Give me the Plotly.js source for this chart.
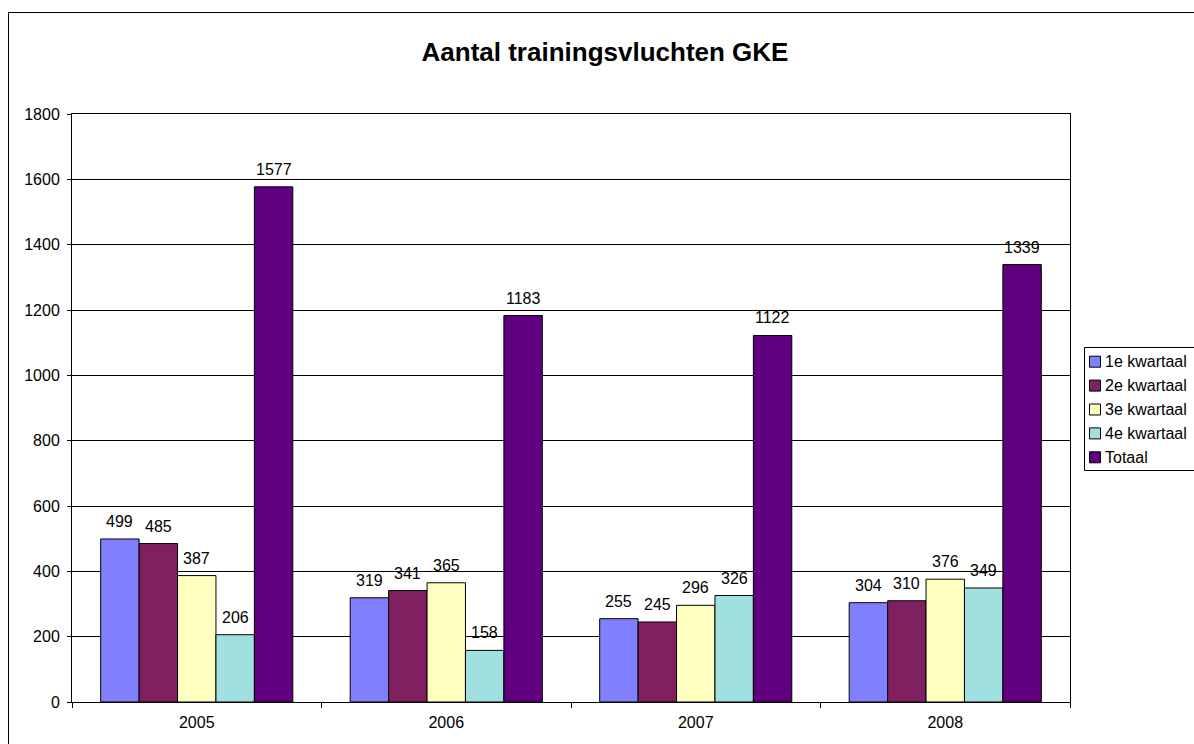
<!DOCTYPE html>
<html><head><meta charset="utf-8">
<script src="https://cdn.plot.ly/plotly-3.0.1.min.js"></script>
<style>html,body{margin:0;padding:0;background:#fff;overflow:hidden}#c{width:1194px;height:744px}</style>
</head><body><div id="c"></div>
<script>
const years = ['2005','2006','2007','2008'];
const seriesNames = ['1e kwartaal','2e kwartaal','3e kwartaal','4e kwartaal','Totaal'];
const q1 = [499,319,255,304];
const q2 = [485,341,245,310];
const q3 = [387,365,296,376];
const q4 = [206,158,326,349];
const totaal = [1577,1183,1122,1339];
const colors = ['#8080FF','#802060','#FFFFC0','#A0E0E0','#600080'];
const values = [q1,q2,q3,q4,totaal];

const fontFam = 'Liberation Sans, Arial, sans-serif';
const W = 1194, H = 744;
const M = {l:72, r:124, t:114, b:42};
const plotW = W - M.l - M.r;
const plotH = H - M.t - M.b;
const bargap = 0.23;
const barPx = plotW / years.length * (1 - bargap) / values.length;
const px = x => (x - M.l) / plotW;
const py = y => (H - M.b - y) / plotH;

const traces = values.map((v,i)=>({
  type:'bar', name:seriesNames[i], x:years, y:v,
  marker:{color:colors[i], line:{color:'#000', width:1}},
  showlegend:false, hoverinfo:'skip'
}));

const annotations = [];
values.forEach((v,i)=>{
  v.forEach((val,j)=>{
    annotations.push({
      x:j, y:val, xref:'x', yref:'y', text:String(val), showarrow:false,
      xanchor:'center', yanchor:'bottom', yshift:7,
      xshift:(i - (values.length-1)/2) * barPx,
      font:{family:fontFam, size:16, color:'#000'}
    });
  });
});

// legend (box, swatches, labels) built from series names and colours
const shapes = [
  {type:'rect', xref:'paper', yref:'paper', x0:px(8.5), x1:1.3, y0:-0.3, y1:py(12.5),
   line:{color:'#000', width:1}, fillcolor:'rgba(0,0,0,0)', layer:'above'},
  {type:'rect', xref:'paper', yref:'paper', x0:px(1084.5), x1:px(1200), y0:py(470.5), y1:py(347.5),
   line:{color:'#000', width:1}, fillcolor:'#fff'}
];
const legTop = 361.7, legStep = 23.9;
seriesNames.forEach((name,i)=>{
  const cy = legTop + i*legStep;
  shapes.push({type:'rect', xref:'paper', yref:'paper', x0:px(1089.5), x1:px(1100.5), y0:py(cy+5.5), y1:py(cy-5.5),
               line:{color:'#000', width:1}, fillcolor:colors[i]});
  annotations.push({xref:'paper', yref:'paper', x:px(1102.5), y:py(cy), xanchor:'left', yanchor:'middle',
                    text:name, showarrow:false, font:{family:fontFam, size:16, color:'#000'}});
});

const layout = {
  width:W, height:H,
  margin:{l:M.l, r:M.r, t:M.t, b:M.b, autoexpand:false},
  paper_bgcolor:'#fff', plot_bgcolor:'#fff',
  font:{family:fontFam, size:16, color:'#000'},
  title:{text:'<b>Aantal trainingsvluchten GKE</b>', xref:'container', x:605/W, xanchor:'center', yref:'container', y:(H-52)/H, yanchor:'middle', font:{family:fontFam, size:26, color:'#000'}},
  barmode:'group', bargap:bargap, bargroupgap:0,
  xaxis:{type:'category', tickson:'boundaries', ticks:'outside', ticklen:5, tickcolor:'#000', tickwidth:1,
         showline:true, linecolor:'#000', linewidth:1, mirror:true, showgrid:false,
         tickfont:{family:fontFam, size:16, color:'#000'}, ticklabelstandoff:6},
  yaxis:{range:[0,1800], dtick:200, ticks:'outside', ticklen:4, tickcolor:'#000', tickwidth:1,
         showline:true, linecolor:'#000', linewidth:1, mirror:true, showgrid:true, gridcolor:'#000', gridwidth:1,
         zeroline:false, tickfont:{family:fontFam, size:16, color:'#000'}, ticklabelstandoff:4},
  showlegend:false,
  annotations:annotations,
  shapes:shapes
};
Plotly.newPlot('c', traces, layout, {displayModeBar:false, staticPlot:true});
</script></body></html>
